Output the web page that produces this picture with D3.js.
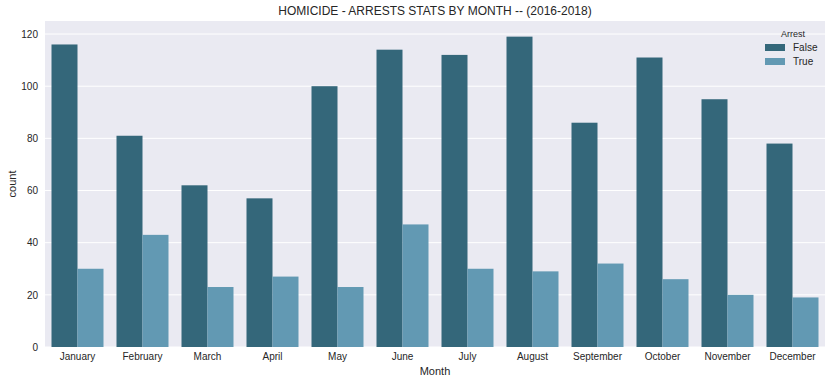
<!DOCTYPE html>
<html>
<head>
<meta charset="utf-8">
<script src="https://cdn.jsdelivr.net/npm/d3@7"></script>
<style>
body { margin: 0; background: #fff; }
text { font-family: "Liberation Sans", Arial, sans-serif; fill: #262626; }
</style>
</head>
<body>
<div id="chart"></div>
<script>
const months = ["January","February","March","April","May","June","July","August","September","October","November","December"];
const arrestValues = ["False", "True"];
const falseCounts = [116, 81, 62, 57, 100, 114, 112, 119, 86, 111, 95, 78];
const trueCounts = [30, 43, 23, 27, 23, 47, 30, 29, 32, 26, 20, 19];
const yTicks = [0, 20, 40, 60, 80, 100, 120];

const width = 833, height = 384;
const margin = {top: 21, right: 8, bottom: 37, left: 45};
const innerW = width - margin.left - margin.right;
const innerH = height - margin.top - margin.bottom;

const colors = {False: "#34677a", True: "#6299b3"};

const data = months.map((m, i) => ({month: m, False: falseCounts[i], True: trueCounts[i]}));

const svg = d3.select("#chart").append("svg")
  .attr("width", width).attr("height", height);

const g = svg.append("g").attr("transform", `translate(${margin.left},${margin.top})`);

g.append("rect").attr("width", innerW).attr("height", innerH).attr("fill", "#eaeaf2");

const x = d3.scaleBand().domain(months).range([0, innerW]).paddingInner(0).paddingOuter(0);
const xSub = d3.scaleBand().domain(arrestValues)
  .range([x.step() * 0.1, x.step() * 0.9]);
const y = d3.scaleLinear().domain([0, 125]).range([innerH, 0]);

// grid
g.selectAll(".grid").data(yTicks).join("line")
  .attr("x1", 0).attr("x2", innerW)
  .attr("y1", d => y(d)).attr("y2", d => y(d))
  .attr("stroke", "#fff").attr("stroke-width", 1);

// bars
const groups = g.selectAll(".grp").data(data).join("g")
  .attr("transform", d => `translate(${x(d.month)},0)`);
groups.selectAll("rect").data(d => arrestValues.map(k => ({key: k, value: d[k]}))).join("rect")
  .attr("x", d => xSub(d.key))
  .attr("width", xSub.bandwidth())
  .attr("y", d => y(d.value))
  .attr("height", d => y(0) - y(d.value))
  .attr("fill", d => colors[d.key]);

// axes
const yAxis = g.append("g").call(d3.axisLeft(y).tickValues(yTicks).tickSize(0).tickPadding(7));
yAxis.select(".domain").remove();
yAxis.selectAll("text").attr("font-size", 10).style("fill", "#262626");

const xAxis = g.append("g").attr("transform", `translate(0,${innerH})`)
  .call(d3.axisBottom(x).tickSize(0).tickPadding(6));
xAxis.select(".domain").remove();
xAxis.selectAll("text").attr("font-size", 10).style("fill", "#262626");

// labels
svg.append("text").attr("x", margin.left + innerW / 2).attr("y", 375)
  .attr("text-anchor", "middle").attr("font-size", 11).text("Month");
svg.append("text").attr("transform", `translate(16,${margin.top + innerH / 2}) rotate(-90)`)
  .attr("text-anchor", "middle").attr("font-size", 11).text("count");
svg.append("text").attr("x", margin.left + innerW / 2).attr("y", 15)
  .attr("text-anchor", "middle").attr("font-size", 12).text("HOMICIDE - ARRESTS STATS BY MONTH -- (2016-2018)");

// legend
const leg = svg.append("g").attr("transform", "translate(765,28)");
leg.append("text").attr("x", 28).attr("y", 9).attr("text-anchor", "middle").attr("font-size", 9).text("Arrest");
arrestValues.forEach((k, i) => {
  const row = leg.append("g").attr("transform", `translate(0,${16 + i * 14})`);
  row.append("rect").attr("width", 20).attr("height", 7).attr("fill", colors[k]);
  row.append("text").attr("x", 28).attr("y", 7).attr("font-size", 10).text(k);
});
</script>
</body>
</html>
